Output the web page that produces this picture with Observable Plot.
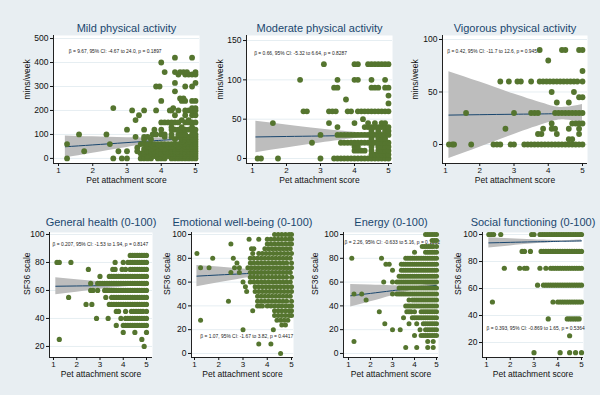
<!DOCTYPE html>
<html><head><meta charset="utf-8">
<script src="https://cdn.jsdelivr.net/npm/d3@7"></script>
<script src="https://cdn.jsdelivr.net/npm/@observablehq/plot@0.6"></script>
<style>
html,body{margin:0;padding:0;background:#e8eef2;}
#root{position:relative;width:600px;height:395px;background:#e8eef2;overflow:hidden;}
#root > svg{position:absolute;}
</style></head><body><div id="root"></div>
<script>
// ---------- DATA ----------
const xLabel = "Pet attachment score";
const titles = ["Mild physical activity","Moderate physical activity","Vigorous physical activity",
  "General health (0-100)","Emotional well-being (0-100)","Energy (0-100)","Social functioning (0-100)"];
const yLabels = ["mins/week","mins/week","mins/week","SF36 scale","SF36 scale","SF36 scale","SF36 scale"];
const xTicks = [1,2,3,4,5];
const yTicks = [[0,100,200,300,400,500],[0,50,100,150],[0,50,100],[20,40,60,80,100],[0,20,40,60,80,100],[0,20,40,60,80,100],[20,40,60,80,100]];
const notes = [
  "β = 9.67, 95% CI: -4.67 to 24.0, p = 0.1897",
  "β = 0.66, 95% CI: -5.32 to 6.64, p = 0.8287",
  "β = 0.42, 95% CI: -11.7 to 12.6, p = 0.9457",
  "β = 0.207, 95% CI: -1.53 to 1.94, p = 0.8147",
  "β = 1.07, 95% CI: -1.67 to 3.82, p = 0.4417",
  "β = 2.26, 95% CI: -0.633 to 5.16, p = 0.1252",
  "β = 0.393, 95% CI: -0.869 to 1.65, p = 0.5364"];
const noteX = [1.3, 1.05, 1.05, 0.96, 1.24, 0.82, 1.0];
const noteY = [446, 134, 89, 93, 14, 93.6, 30.8];

// scatter rows: [y value, x values]
const mildRows = [
 [0,"1.25 2.6 2.85 3 3.4 3.5 3.6 3.7 3.9 4 4.1 4.3 4.4 4.5 4.6 4.7 4.8 4.9 5"],
 [10,"3.5 3.6 3.8 4 4.1 4.2 4.4 4.5 4.6 4.7 4.8 4.9 5"],
 [20,"3.4 3.5 3.7 3.8 3.9 4 4.2 4.3 4.4 4.5 4.6 4.7 4.8 4.9 5"],
 [30,"1.75 2.75 3 3.3 3.5 3.6 3.7 3.8 3.9 4 4.1 4.2 4.3 4.4 4.5 4.6 4.7 4.8 4.9 5"],
 [40,"3.5 3.7 3.9 4 4.1 4.3 4.4 4.5 4.6 4.7 4.8 4.9 5"],
 [45,"3.3"],
 [50,"3.6 3.8 4 4.2 4.3 4.5 4.7 4.8 4.9 5"],
 [60,"1.25 2.5 3.4 3.5 3.6 3.7 3.8 3.9 4 4.1 4.2 4.3 4.4 4.5 4.6 4.7 4.8 4.9 5"],
 [70,"4.6 4.8 5"],
 [80,"3.5 3.7 4.4 4.6 4.7 4.8 4.9 5"],
 [90,"3.25 3.5 3.6 4.1 4.3 4.5 4.6 4.7 4.8 4.9 5"],
 [100,"1.6 2.4 3.75 3.85 4 4.1 4.3 4.5 4.6 4.7 4.9 5"],
 [120,"3 3.5 3.8 4 4.3 4.4 4.5 4.6 4.7 4.8 4.9 5"],
 [130,"4.3 4.6 4.9"],
 [150,"4 4.1 4.2 4.3 4.4 4.5 4.7 4.8 4.9 5"],
 [160,"3.25 4.6 4.8"],
 [180,"3.35 4.4 4.7 4.9 5"],
 [200,"3.15 3.5 3.85 4.25 4.3 4.5 4.7 4.8 4.9 5"],
 [210,"2.6 4.35 4.9 5"],
 [240,"4 4.6 4.7 4.9 5"],
 [250,"4.55 4.65"],
 [280,"4.4"],
 [300,"3.85 3.95 4.7 4.9"],
 [315,"4.4 5"],
 [350,"4.5 4.7 4.8 4.9 5"],
 [360,"4.1 4.4 4.55 4.65 4.75 5"],
 [400,"4"],
 [420,"4.4 4.9"]];
const moderateRows = [
 [0,"1.15 1.25 1.75 3 3.4 3.5 3.6 3.7 3.8 3.9 4 4.1 4.2 4.3 4.4 4.5 4.6 4.7 4.8 4.9 5"],
 [5,"4.5 4.6 4.7 4.8 4.9 5"],
 [10,"4 4.1 4.2 4.3 4.5 4.7 4.8 4.9 5"],
 [15,"4 4.1 4.5 4.7 4.8 4.9 5"],
 [20,"2.75 3.6 3.7 3.8 3.9 4 4.1 4.2 4.3 4.4 4.5 4.6 4.7 4.8 4.9 5"],
 [25,"4.5 4.7 4.8 4.9"],
 [30,"3 3.5 3.6 3.7 3.8 3.9 4 4.1 4.2 4.3 4.4 4.5 4.6 4.7 4.8 4.9 5"],
 [35,"4.5 4.7 4.9 5"],
 [40,"3.5 4.3 4.4 4.5 4.6 4.7 4.8 4.9 5"],
 [45,"1.6 3.25 4 4.4 4.6 4.8 4.9"],
 [50,"4.25"],
 [60,"2.5 2.6 3.25 3.35 3.45 3.8 3.9 4.1 4.2 4.3 4.4 4.5 4.6 4.7 4.8 4.9 5"],
 [70,"5"],
 [75,"3.75"],
 [80,"5"],
 [90,"3.4 3.5 4.5 4.6 4.7 4.9 5"],
 [100,"2.4 3.5 4 4.1 4.5 4.9"],
 [120,"3.1 4 4.1 4.4 4.5 4.6 4.7 4.8 4.9 5"]];
const vigorousRows = [
 [0,"1.1 1.2 1.25 1.75 2.4 2.5 2.6 2.9 3 3.3 3.4 3.5 3.6 3.7 3.8 3.9 4 4.1 4.2 4.3 4.4 4.5 4.6 4.7 4.8 4.9 5"],
 [5,"4.6 4.7"],
 [10,"3.7 3.8 4.25 4.9"],
 [15,"2.75 3.85 4.1 4.2 4.6 4.9"],
 [20,"4.1 4.7 4.8 4.9 5"],
 [30,"1.6 3 3.5 3.6 3.7 4.2 4.3 4.4 4.5 4.6 4.7 4.8 4.9 5"],
 [40,"4.25 4.6"],
 [45,"4.9 5"],
 [50,"4.1 4.75"],
 [60,"2.6 2.85 3.1 3.2 3.5 3.75 3.85 3.95 4.05 4.15 4.25 4.35 4.45 4.55 4.65 4.75 4.85 5"],
 [70,"5"],
 [80,"4"],
 [90,"3.75 4.4 4.5 4.9 5"]];
const generalRows = [
 [85,"4.3 4.4 4.5 4.6 4.7 4.8 4.9 5"],
 [80,"1.15 1.25 1.75 3.65 4 4.2 4.3 4.4 4.5 4.6 4.7 4.8 4.9 5"],
 [75,"2.5 3.55 3.65 3.95 4.1 4.3 4.4 4.5 4.6 4.7 4.8 4.9 5"],
 [70,"3 3.4 3.5 3.6 3.7 3.8 3.9 4 4.1 4.2 4.3 4.4 4.5 4.6 4.7 4.8 4.9 5"],
 [65,"2.6 2.9 3 3.1 3.2 3.3 3.4 3.5 3.6 3.7 3.8 3.9 4 4.1 4.2 4.3 4.4 4.5 4.6 4.7 4.8 4.9 5"],
 [60,"2.6 2.7 2.9 3.2 3.3 3.4 3.5 3.6 3.7 3.8 3.9 4 4.1 4.2 4.3 4.4 4.5 4.6 4.7 4.8 4.9 5"],
 [55,"1.65 3.25 3.5 3.6 3.7 3.8 3.9 4 4.1 4.2 4.3 4.4 4.5 4.6 4.7 4.8 4.9 5"],
 [50,"2.4 2.65 3.4 3.5 3.6 3.7 3.8 3.9 4 4.1 4.2 4.3 4.4 4.5 4.6 4.7 4.8 4.9 5"],
 [45,"3.7 3.8 4.1 4.35 4.45 4.55 4.65 4.75 4.85 5"],
 [40,"2.85 3.35 3.9 4.1 4.2 4.3 4.4 4.5 4.6 4.7 4.8 4.9 5"],
 [35,"3.7 4 4.1 4.2 4.3 4.4 4.5 4.6 4.7 4.8 4.9 5"],
 [30,"4 4.5 5"],
 [25,"1.25 4.8"],
 [20,"4.9"]];
const emotionalRows = [
 [100,"4.3 4.45 4.6 4.75 4.9 5"],
 [96,"3.25 3.65 4 4.15 4.3 4.45 4.6 4.75 4.9 5"],
 [92,"2.5 4 4.15 4.3 4.45 4.6 4.75 4.9 5"],
 [88,"3.35 3.45 3.9 4.05 4.2 4.35 4.5 4.65 4.8 4.95"],
 [84,"1.1 3.4 3.65 3.8 3.95 4.1 4.25 4.4 4.55 4.7 4.85 5"],
 [80,"1.75 2.6 3.3 3.45 3.6 3.75 3.9 4.05 4.2 4.35 4.5 4.65 4.8 4.95"],
 [76,"2.75 3.3 3.45 3.6 3.75 3.9 4.05 4.2 4.35 4.5 4.65 4.8 5"],
 [72,"1.25 1.6 2.65 2.85 3.2 3.35 3.5 3.65 3.8 3.95 4.1 4.25 4.4 4.55 4.7 4.85 5"],
 [68,"2.5 2.85 3.3 3.45 3.6 3.75 3.9 4.05 4.2 4.35 4.5 4.65 4.8 4.95"],
 [64,"3.3 3.45 3.6 3.75 3.9 4.05 4.2 4.35 4.5 4.65 4.8 5"],
 [60,"3 3.3 3.45 3.6 3.75 3.9 4.05 4.2 4.35 4.5 4.65 4.8 4.95"],
 [56,"3.1 3.5 3.65 3.8 3.95 4.1 4.25 4.4 4.55 4.7 4.85 5"],
 [52,"3.15 3.5 3.65 3.8 3.95 4.1 4.25 4.4 4.55 4.7 4.85 5"],
 [48,"3.6 3.75 3.9 4.05 4.2 4.35 4.5 4.65 4.8 4.95"],
 [44,"2.4 3.6 3.75 3.9 4.05 4.2 4.35 4.5 4.65 4.8 5"],
 [40,"3.6 3.7 3.8 4 4.15 4.3 4.45 4.6 4.75 4.9 5"],
 [36,"3.4 4.3 4.45 4.6 4.75 4.9 5"],
 [32,"4.3 4.45 4.6 4.75 4.9 5"],
 [28,"1.25 4.4 4.55 4.7 4.85"],
 [24,"4.6 4.75"],
 [20,"3 4.25"],
 [8,"3.65 4.15"],
 [0,"4.55"]];
const energyRows = [
 [100,"4.5 4.6 4.7 4.8 4.9 5"],
 [95,"4.8 4.9 5"],
 [90,"4.35 4.45 4.55 4.65 4.75 4.85 5"],
 [85,"4 4.5 4.6 4.7 4.8 4.9 5"],
 [80,"1.15 2.5 3.6 3.7 3.8 3.9 4 4.1 4.2 4.3 4.4 4.5 4.6 4.7 4.8 4.9 5"],
 [75,"2.7 2.85 3.4 3.5 3.6 3.7 3.8 3.9 4 4.1 4.2 4.3 4.4 4.5 4.6 4.7 4.8 4.9 5"],
 [70,"3 3.4 3.5 3.6 3.7 3.8 3.9 4 4.1 4.2 4.3 4.4 4.5 4.6 4.7 4.8 4.9 5"],
 [65,"3.3 3.4 3.5 3.6 3.7 3.8 3.9 4 4.1 4.2 4.3 4.4 4.5 4.6 4.7 4.8 4.9 5"],
 [60,"2.6 3 3.2 3.3 3.4 3.5 3.6 3.7 3.8 3.9 4 4.1 4.2 4.3 4.4 4.5 4.6 4.7 4.8 4.9 5"],
 [55,"3.3 3.4 3.5 3.6 3.7 3.8 3.9 4 4.1 4.2 4.3 4.4 4.5 4.6 4.7 4.8 4.9 5"],
 [50,"1.25 1.6 3 3.2 3.3 3.4 3.5 3.6 3.7 3.8 3.9 4 4.1 4.2 4.3 4.4 4.5 4.6 4.7 4.8 4.9 5"],
 [45,"1.8 3.75 3.9 4 4.1 4.2 4.3 4.4 4.5 4.6 4.7 4.8 4.9 5"],
 [40,"3.6 3.7 3.8 3.9 4 4.1 4.2 4.3 4.4 4.5 4.6 4.7 4.8 4.9 5"],
 [35,"2.4 3.65 3.75 3.85 4 4.3 4.4 4.5 4.6 4.7 4.8 4.9 5"],
 [30,"3.5 3.9 4 4.1 4.2 4.3 4.4 4.5 4.6 4.7 4.8 4.9 5"],
 [25,"2.65 3.75 4.1 4.4 4.5 4.6 4.7 4.8 4.9 5"],
 [20,"3 3.35 4.25 4.5 4.6 4.7 4.8 4.9 5"],
 [15,"4 4.3 4.4 4.5 4.6 4.7 4.8 4.9 5"],
 [10,"1.25 4.6 4.85"],
 [5,"3.6 4.1 4.6 4.85"]];
const socialRows = [
 [100,"1.1 1.2 1.3 1.6 2.9 3 3.25 3.35 3.45 3.55 3.65 3.75 3.85 3.95 4.05 4.15 4.25 4.35 4.45 4.55 4.65 4.75 4.85 4.95 5"],
 [87.5,"2.5 2.6 2.85 3.3 3.4 3.5 3.6 3.7 3.8 3.9 4 4.1 4.2 4.3 4.4 4.5 4.6 4.7 4.8 4.9 5"],
 [75,"1.75 2.4 2.6 2.7 3.25 3.5 3.7 3.8 3.9 4 4.1 4.2 4.3 4.4 4.5 4.6 4.7 4.8 4.9 5"],
 [62.5,"3.15 3.4 3.5 3.6 3.7 3.8 3.9 4 4.1 4.2 4.3 4.4 4.5 4.6 4.7 4.8 4.9 5"],
 [50,"1.25 3.8 4 4.1 4.2 4.3 4.4 4.5 4.6 4.7 4.8 4.9 5"],
 [37.5,"3.6 4.4 4.5 4.6 4.7 4.8 4.9"],
 [25,"4.5"],
 [12.5,"3 4.1 4.5 4.75 5"]];
const allRows = [mildRows, moderateRows, vigorousRows, generalRows, emotionalRows, energyRows, socialRows];

// fitted line and 95% CI band, read at a few x positions
const bandX = [[1.2,2,3,4,4.3,5],[1.1,2,3,4,4.4,5],[1.1,2,3,4,4.5,5],[1.1,2,3,4,4.5,5],[1.1,2,3,4,4.4,5],[1.1,2,3,4,4.4,5],[1.1,2,3,4,4.3,5]];
const fitY  = [[48.6,56.3,66,75.7,78.6,85.4],[27.4,28.0,28.6,29.3,29.5,29.9],[28.0,28.4,28.8,29.2,29.4,29.6],[63.0,63.2,63.4,63.6,63.7,63.8],[65.0,66.0,67.0,68.1,68.5,69.2],[48.5,50.5,52.8,55.1,56.0,57.3],[93.8,94.2,94.6,94.9,95.0,95.3]];
const bandLo = [[3,22,46,66,70,72],[7.4,13.3,19.6,25.3,26.5,25.2],[-13.3,-2.6,9.6,20.7,23.4,21.1],[57,58.8,60.7,62.4,62.8,62.6],[56,59.4,63,66.5,67.3,67.2],[39,43.5,48.6,53.5,54.7,55.2],[90,91.5,93.1,94.3,94.5,94.4]];
const bandHi = [[94,90,86,85,87,99],[47.4,42.7,37.6,33.3,32.5,34.6],[69.3,59.4,48.0,37.7,35.4,38.1],[69,67.6,66.1,64.8,64.6,65],[74,72.6,71,69.7,69.7,71.2],[58,57.5,57,56.7,57.3,59.4],[97.6,96.9,96.1,95.5,95.5,96.2]];

// ---------- LAYOUT ----------
const layout = [
 {L:53, R:199, T:35, B:163, xd:[0.854,5.117], yd:[-21.2,512.7], yl:26, td:-4, xl:19.5, r:2.9},
 {L:246,R:392, T:35, B:163, xd:[0.824,5.118], yd:[-6.36,156.4], yl:26, td:-4, xl:19.5, r:2.9},
 {L:442,R:587, T:35, B:163, xd:[0.912,5.146], yd:[-18.1,103.8], yl:27, td:-4, xl:19.5, r:2.9},
 {L:49, R:152, T:232,B:357, xd:[0.828,5.258], yd:[12.1,101.4], yl:22, td:-7, xl:19.5, r:2.6},
 {L:191,R:293, T:232,B:357, xd:[0.876,5.082], yd:[-3.4,101.7], yl:24, td:-7, xl:19.5, r:2.5},
 {L:343,R:438, T:232,B:357, xd:[0.773,5.09], yd:[-3.4,101.7], yl:28, td:-7, xl:19.5, r:2.5},
 {L:482,R:583, T:232,B:357, xd:[0.832,5.084], yd:[8.9,101.5], yl:24, td:-7, xl:19.5, r:2.6}
];
const ML = 45, MR = 10, MT = 35, MB = 30;
const FONT = "'Liberation Sans', Arial, sans-serif";
const root = document.getElementById("root");

allRows.forEach((rows, i) => {
  const g = layout[i];
  const pts = rows.flatMap(([y, xs]) => xs.trim().split(/\s+/).map(Number).map(x => ({x, y})));
  const band = bandX[i].map((x, j) => ({x, lo: bandLo[i][j], hi: bandHi[i][j], fit: fitY[i][j]}));
  const chart = Plot.plot({
    width: g.R - g.L + ML + MR,
    height: g.B - g.T + MT + MB,
    marginLeft: ML, marginRight: MR, marginTop: MT, marginBottom: MB,
    style: {background: "transparent", fontFamily: FONT, overflow: "visible", color: "#111"},
    x: {domain: g.xd},
    y: {domain: g.yd},
    marks: [
      Plot.frame({fill: "white", stroke: "none"}),
      Plot.gridY(yTicks[i], {stroke: "#e6eef2", strokeOpacity: 1, strokeWidth: 1}),
      Plot.areaY(band, {x: "x", y1: "lo", y2: "hi", fill: "#bdbdbd", curve: "natural"}),
      Plot.line(band, {x: "x", y: "fit", stroke: "#1a476f", strokeWidth: 1, curve: "natural"}),
      Plot.text([notes[i]], {x: () => noteX[i], y: () => noteY[i], text: d => d, textAnchor: "start", fontSize: 4.9, fill: "#222"}),
      Plot.dot(pts, {x: "x", y: "y", r: g.r, fill: "#55752f", stroke: "none"}),
      Plot.ruleX([g.xd[0]], {stroke: "#222", strokeWidth: 1}),
      Plot.ruleY([g.yd[0]], {stroke: "#222", strokeWidth: 1}),
      Plot.axisX({ticks: xTicks, tickSize: 3, tickPadding: 1, fontSize: 8, label: null, tickFormat: d3.format("d")}),
      Plot.axisY({ticks: yTicks[i], tickSize: 3, tickPadding: 2, fontSize: 8.5, label: null, tickFormat: d3.format("d")}),
      Plot.text([titles[i]], {frameAnchor: "top", dy: g.td, lineAnchor: "bottom", fontSize: 11, fill: "#1a476f"}),
      Plot.text([yLabels[i]], {frameAnchor: "left", dx: -g.yl, rotate: -90, fontSize: 8.5, fill: "#111"}),
      Plot.text([xLabel], {frameAnchor: "bottom", dy: g.xl, fontSize: 8.5, fill: "#111"})
    ]
  });
  chart.style.left = (g.L - ML) + "px";
  chart.style.top = (g.T - MT) + "px";
  root.appendChild(chart);
});
</script></body></html>
